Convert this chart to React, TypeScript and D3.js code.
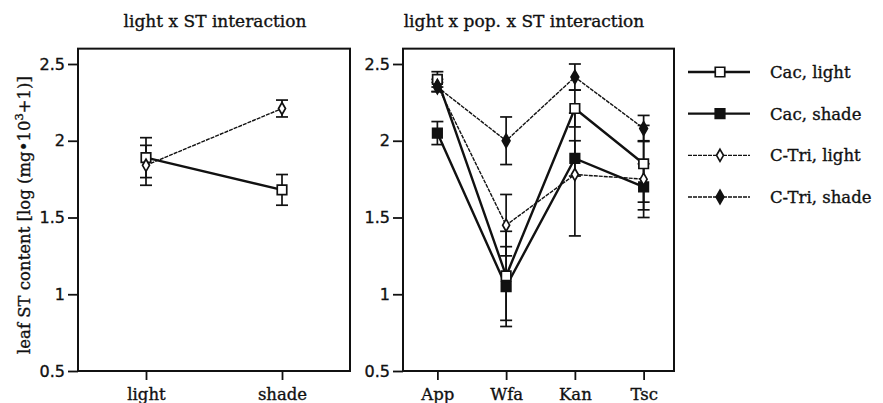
import React, { useEffect, useRef } from 'react';
import * as d3 from 'd3';

// left panel: light x ST interaction
const lightLevels = ['light', 'shade'];
const cacMean = [1.89, 1.68];
const cacErr = [0.13, 0.10];
const ctriMean = [1.84, 2.21];
const ctriErr = [0.13, 0.055];

// right panel: light x pop. x ST interaction
const pops = ['App', 'Wfa', 'Kan', 'Tsc'];
const cacLight = [2.40, 1.12, 2.21, 1.85];
const cacLightErr = [0.05, 0.29, 0.12, 0.25];
const cacShade = [2.05, 1.05, 1.885, 1.70];
const cacShadeErr = [0.075, 0.26, 0.115, 0.15];
const ctriLight = [2.36, 1.45, 1.78, 1.75];
const ctriLightErr = [0.04, 0.20, 0.40, 0.25];
const ctriShade = [2.35, 2.00, 2.415, 2.08];
const ctriShadeErr = [0.03, 0.155, 0.085, 0.085];

const yTicks = [0.5, 1, 1.5, 2, 2.5];
const legendLabels = ['Cac, light', 'Cac, shade', 'C-Tri, light', 'C-Tri, shade'];

const serif = '"DejaVu Serif", serif';
const sans = '"DejaVu Sans", sans-serif';
const ink = '#111';

const App = () => {
    const svgRef = useRef<SVGSVGElement>(null);
    const width = 883;
    const height = 403;

    useEffect(() => {
        const svg = d3.select(svgRef.current)
            .attr('width', width)
            .attr('height', height)
            .style('background', '#fff');

        svg.selectAll('*').remove();

        const yScale = d3.scaleLinear().domain([0.5, 2.5]).range([371, 64]);
        const frameTop = yScale(2.6);

        const styles = {
            cacLight: { fill: '#fff', sym: d3.symbolSquare, size: 90, width: 2.4, dash: null },
            cacShade: { fill: ink, sym: d3.symbolSquare, size: 90, width: 2.4, dash: null },
            ctriLight: { fill: '#fff', sym: d3.symbolDiamond, size: 42, width: 1.4, dash: '4,1' },
            ctriShade: { fill: ink, sym: d3.symbolDiamond, size: 52, width: 1.4, dash: '4,1' },
        };

        // scanned text looks heavy, so give it a thin outline
        const heavy = sel => sel.attr('fill', ink).attr('stroke', ink).attr('stroke-width', 0.35);

        const drawPanel = (x0, x1, xScale, cats, series, title, titleX) => {
            const g = svg.append('g');

            g.append('rect')
                .attr('x', x0).attr('y', frameTop)
                .attr('width', x1 - x0).attr('height', yScale(0.5) - frameTop)
                .attr('fill', 'none').attr('stroke', ink).attr('stroke-width', 2);

            const yAxis = g.append('g')
                .attr('transform', `translate(${x0},0)`)
                .call(d3.axisLeft(yScale).tickValues(yTicks).tickSize(10).tickPadding(3).tickFormat(d3.format('')));
            yAxis.select('.domain').remove();
            yAxis.selectAll('line').attr('stroke', ink).attr('stroke-width', 1.8);
            yAxis.selectAll('text').attr('font-family', sans).attr('font-size', 16).call(heavy);

            const xAxis = g.append('g')
                .attr('transform', `translate(0,${yScale(0.5)})`)
                .call(d3.axisBottom(xScale).tickSize(9).tickPadding(8));
            xAxis.select('.domain').remove();
            xAxis.selectAll('line').attr('stroke', ink).attr('stroke-width', 1.8);
            xAxis.selectAll('text').attr('font-family', serif).attr('font-size', 16.5).call(heavy);

            g.append('text')
                .attr('x', titleX).attr('y', 27)
                .attr('text-anchor', 'middle')
                .attr('font-family', serif).attr('font-size', 17)
                .call(heavy)
                .text(title);

            const line = d3.line<number>()
                .x((d, i) => xScale(cats[i]))
                .y(d => yScale(d));

            series.forEach(s => {
                const st = styles[s.key];
                g.append('path')
                    .datum(s.values)
                    .attr('fill', 'none')
                    .attr('stroke', ink)
                    .attr('stroke-width', st.width)
                    .attr('stroke-dasharray', st.dash)
                    .attr('d', line);
            });

            series.forEach(s => {
                const eg = g.append('g').attr('stroke', ink).attr('stroke-width', 1.7);
                s.values.forEach((v, i) => {
                    const cx = xScale(cats[i]);
                    const lo = yScale(v - s.err[i]);
                    const hi = yScale(v + s.err[i]);
                    eg.append('line').attr('x1', cx).attr('x2', cx).attr('y1', lo).attr('y2', hi);
                    eg.append('line').attr('x1', cx - 6).attr('x2', cx + 6).attr('y1', lo).attr('y2', lo);
                    eg.append('line').attr('x1', cx - 6).attr('x2', cx + 6).attr('y1', hi).attr('y2', hi);
                });
            });

            series.forEach(s => {
                const st = styles[s.key];
                g.selectAll(null)
                    .data(s.values)
                    .enter()
                    .append('path')
                    .attr('transform', (d, i) => `translate(${xScale(cats[i])},${yScale(d)})`)
                    .attr('d', d3.symbol().type(st.sym).size(st.size))
                    .attr('fill', st.fill)
                    .attr('stroke', ink)
                    .attr('stroke-width', 1.7);
            });
        };

        const xLeft = d3.scalePoint().domain(lightLevels).range([78, 350]).padding(0.5);
        drawPanel(78, 350, xLeft, lightLevels, [
            { key: 'cacLight', values: cacMean, err: cacErr },
            { key: 'ctriLight', values: ctriMean, err: ctriErr },
        ], 'light x ST interaction', 215);

        const xRight = d3.scalePoint().domain(pops).range([403, 678]).padding(0.5);
        drawPanel(403, 674, xRight, pops, [
            { key: 'cacLight', values: cacLight, err: cacLightErr },
            { key: 'cacShade', values: cacShade, err: cacShadeErr },
            { key: 'ctriLight', values: ctriLight, err: ctriLightErr },
            { key: 'ctriShade', values: ctriShade, err: ctriShadeErr },
        ], 'light x pop. x ST interaction', 524);

        // y axis label
        const yl = svg.append('text')
            .attr('transform', 'translate(30,215) rotate(-90)')
            .attr('text-anchor', 'middle')
            .attr('font-family', serif).attr('font-size', 16.5)
            .call(heavy);
        yl.append('tspan').text('leaf ST content [log (mg•10');
        yl.append('tspan').attr('baseline-shift', 'super').attr('font-size', 11.5).text('3');
        yl.append('tspan').text('+1)]');

        // legend
        const keys = ['cacLight', 'cacShade', 'ctriLight', 'ctriShade'];
        const legendY = d3.scalePoint().domain(legendLabels).range([72, 197]);
        legendLabels.forEach((label, i) => {
            const st = styles[keys[i]];
            const y = legendY(label);
            svg.append('line')
                .attr('x1', 688).attr('x2', 750).attr('y1', y).attr('y2', y)
                .attr('stroke', ink).attr('stroke-width', st.width)
                .attr('stroke-dasharray', st.dash);
            svg.append('path')
                .attr('transform', `translate(720,${y})`)
                .attr('d', d3.symbol().type(st.sym).size(st.size))
                .attr('fill', st.fill).attr('stroke', ink).attr('stroke-width', 1.7);
            svg.append('text')
                .attr('x', 770).attr('y', y + 6)
                .attr('font-family', serif).attr('font-size', 16.5)
                .call(heavy)
                .text(label);
        });
    }, []);

    return <svg ref={svgRef} style={{ position: 'absolute', left: 0, top: 0 }}></svg>;
};

export default App;
